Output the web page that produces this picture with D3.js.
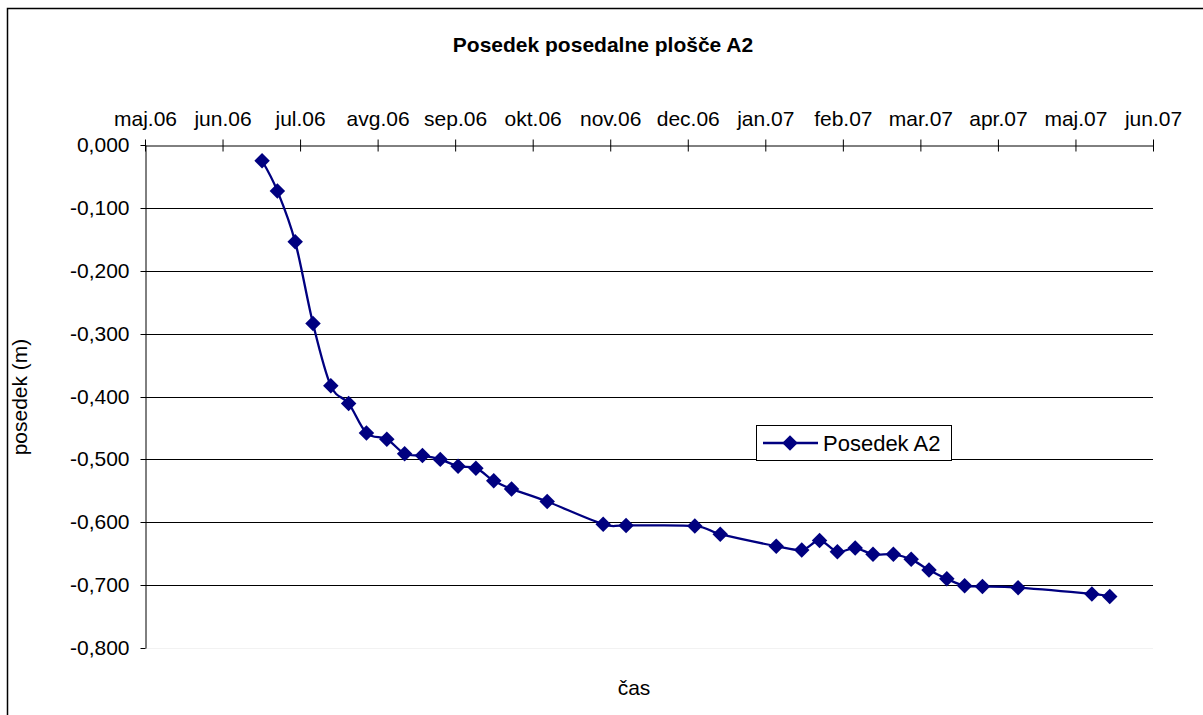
<!DOCTYPE html>
<html>
<head>
<meta charset="utf-8">
<script src="https://cdn.jsdelivr.net/npm/d3@7"></script>
<style>
  body { margin: 0; background: #fff; }
  text { font-family: "Liberation Sans", Arial, sans-serif; fill: #000; }
</style>
</head>
<body>
<script>
//chart data
var dates = ["2006-06-16","2006-06-22","2006-06-29","2006-07-06","2006-07-13","2006-07-20","2006-07-27",
    "2006-08-04","2006-08-11","2006-08-18","2006-08-25","2006-09-01","2006-09-08","2006-09-15","2006-09-22",
    "2006-10-06","2006-10-28","2006-11-06","2006-12-03","2006-12-13","2007-01-04","2007-01-14","2007-01-21",
    "2007-01-28","2007-02-04","2007-02-11","2007-02-19","2007-02-26","2007-03-05","2007-03-12","2007-03-19",
    "2007-03-26","2007-04-09","2007-05-08","2007-05-15"];
var posedek = [-0.025,-0.073,-0.154,-0.284,-0.383,-0.411,-0.458,-0.468,-0.491,-0.494,-0.500,-0.511,
    -0.514,-0.534,-0.547,-0.567,-0.603,-0.605,-0.606,-0.619,-0.638,-0.644,-0.629,-0.647,-0.641,-0.651,
    -0.651,-0.659,-0.676,-0.690,-0.701,-0.702,-0.704,-0.714,-0.718];
var monthLabels = ["maj.06","jun.06","jul.06","avg.06","sep.06","okt.06","nov.06","dec.06",
    "jan.07","feb.07","mar.07","apr.07","maj.07","jun.07"];
var yTicks = [0, -0.1, -0.2, -0.3, -0.4, -0.5, -0.6, -0.7, -0.8];

var w = 1203, h = 715;
var parse = d3.timeParse("%Y-%m-%d");
var t0 = parse("2006-05-01"), t1 = parse("2007-06-01");

var svg = d3.select("body").append("svg")
    .attr("width", w)
    .attr("height", h);

//outer chart border
svg.append("rect")
    .attr("x", 7.5).attr("y", 8.5)
    .attr("width", 1300).attr("height", 800)
    .attr("fill", "none")
    .attr("stroke", "#000")
    .attr("stroke-width", 1.5);

var x = d3.scaleTime().domain([t0, t1]).range([145, 1153]);
var y = d3.scaleLinear().domain([-0.8, 0]).range([648, 145]);

//comma decimal, plain hyphen minus
var loc = d3.formatLocale({decimal: ",", thousands: ".", grouping: [3], currency: ["", "€"], minus: "-"});
var fmt = loc.format(".3f");

//gridlines
svg.selectAll(".grid")
    .data(yTicks.filter(function(d) { return d < 0; }))
    .enter()
    .append("line")
    .attr("class", "grid")
    .attr("x1", x.range()[0]).attr("x2", x.range()[1])
    .attr("y1", function(d) { return Math.round(y(d)) + 0.5; })
    .attr("y2", function(d) { return Math.round(y(d)) + 0.5; })
    .attr("stroke", function(d) { return d === -0.8 ? "#f2f2f2" : "#000"; })
    .attr("stroke-width", 1);

//x axis on top, evenly spaced month ticks
var step = (t1 - t0) / (monthLabels.length - 1);
var xTickValues = monthLabels.map(function(d, i) { return new Date(+t0 + i * step); });

var xAxis = svg.append("g")
    .attr("transform", "translate(0," + (y(0) + 0.5) + ")")
    .call(d3.axisTop(x)
        .tickValues(xTickValues)
        .tickSize(6)
        .tickSizeOuter(0)
        .tickPadding(14)
        .tickFormat(function(d, i) { return monthLabels[i]; }));
xAxis.selectAll(".tick line").attr("y1", 6);
xAxis.selectAll("text").style("font-size", "21px").style("font-family", "Liberation Sans, Arial, sans-serif");

//y axis
var yAxis = svg.append("g")
    .attr("transform", "translate(" + (x.range()[0] + 0.5) + ",0)")
    .call(d3.axisLeft(y)
        .tickValues(yTicks)
        .tickSize(5)
        .tickSizeOuter(0)
        .tickPadding(11)
        .tickFormat(fmt));
yAxis.selectAll("text").style("font-size", "21px").style("font-family", "Liberation Sans, Arial, sans-serif");
yAxis.selectAll(".tick").attr("transform", function(d) { return "translate(0," + (Math.round(y(d)) + 0.5) + ")"; });

//series
var pts = dates.map(function(d, i) { return {date: parse(d), value: posedek[i]}; });

var line = d3.line()
    .x(function(d) { return x(d.date); })
    .y(function(d) { return y(d.value); })
    .curve(d3.curveCardinal.tension(0));

svg.append("path")
    .datum(pts)
    .attr("d", line)
    .attr("fill", "none")
    .attr("stroke", "#000080")
    .attr("stroke-width", 2.3);

var diamond = d3.symbol().type(d3.symbolSquare).size(120);

svg.selectAll(".marker")
    .data(pts)
    .enter()
    .append("path")
    .attr("class", "marker")
    .attr("d", diamond)
    .attr("transform", function(d) { return "translate(" + x(d.date) + "," + y(d.value) + ") rotate(45)"; })
    .attr("fill", "#000080");

//titles
svg.append("text")
    .attr("x", 603).attr("y", 52)
    .attr("text-anchor", "middle")
    .style("font-size", "21px")
    .style("font-weight", "bold")
    .text("Posedek posedalne plošče A2");

svg.append("text")
    .attr("transform", "translate(27,397) rotate(-90)")
    .attr("text-anchor", "middle")
    .style("font-size", "21px")
    .text("posedek (m)");

svg.append("text")
    .attr("x", 634).attr("y", 695)
    .attr("text-anchor", "middle")
    .style("font-size", "21px")
    .text("čas");

//legend
var legend = svg.append("g").attr("transform", "translate(756,425)");
legend.append("rect")
    .attr("x", 0.5).attr("y", 0.5)
    .attr("width", 195).attr("height", 35)
    .attr("fill", "#fff")
    .attr("stroke", "#000");
legend.append("line")
    .attr("x1", 7).attr("x2", 62)
    .attr("y1", 18).attr("y2", 18)
    .attr("stroke", "#000080")
    .attr("stroke-width", 2.3);
legend.append("path")
    .attr("d", diamond)
    .attr("transform", "translate(34,18) rotate(45)")
    .attr("fill", "#000080");
legend.append("text")
    .attr("x", 67).attr("y", 26)
    .style("font-size", "22px")
    .text("Posedek A2");
</script>
</body>
</html>
